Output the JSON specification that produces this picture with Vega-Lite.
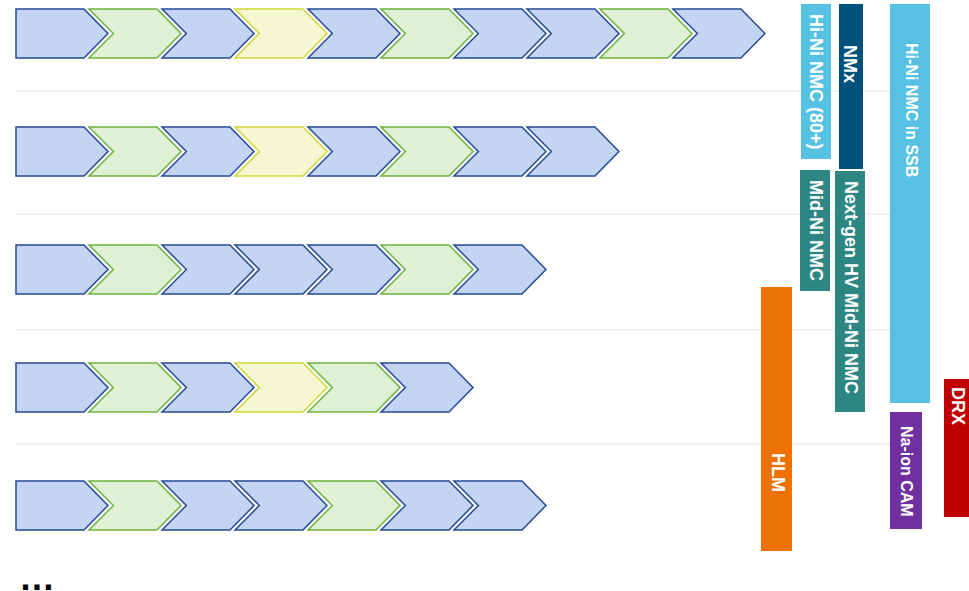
{
  "$schema": "https://vega.github.io/schema/vega-lite/v6.json",
  "width": 969,
  "height": 591,
  "autosize": {"type": "none"},
  "padding": 0,
  "background": "white",
  "config": {"view": {"stroke": null}},
  "datasets": {
    "steps": [
      {"stage": 0, "step": 0, "tone": "blue", "kind": "first"},
      {"stage": 0, "step": 1, "tone": "green", "kind": "next"},
      {"stage": 0, "step": 2, "tone": "blue", "kind": "next"},
      {"stage": 0, "step": 3, "tone": "yellow", "kind": "next"},
      {"stage": 0, "step": 4, "tone": "blue", "kind": "next"},
      {"stage": 0, "step": 5, "tone": "green", "kind": "next"},
      {"stage": 0, "step": 6, "tone": "blue", "kind": "next"},
      {"stage": 0, "step": 7, "tone": "blue", "kind": "next"},
      {"stage": 0, "step": 8, "tone": "green", "kind": "next"},
      {"stage": 0, "step": 9, "tone": "blue", "kind": "next"},
      {"stage": 1, "step": 0, "tone": "blue", "kind": "first"},
      {"stage": 1, "step": 1, "tone": "green", "kind": "next"},
      {"stage": 1, "step": 2, "tone": "blue", "kind": "next"},
      {"stage": 1, "step": 3, "tone": "yellow", "kind": "next"},
      {"stage": 1, "step": 4, "tone": "blue", "kind": "next"},
      {"stage": 1, "step": 5, "tone": "green", "kind": "next"},
      {"stage": 1, "step": 6, "tone": "blue", "kind": "next"},
      {"stage": 1, "step": 7, "tone": "blue", "kind": "next"},
      {"stage": 2, "step": 0, "tone": "blue", "kind": "first"},
      {"stage": 2, "step": 1, "tone": "green", "kind": "next"},
      {"stage": 2, "step": 2, "tone": "blue", "kind": "next"},
      {"stage": 2, "step": 3, "tone": "blue", "kind": "next"},
      {"stage": 2, "step": 4, "tone": "blue", "kind": "next"},
      {"stage": 2, "step": 5, "tone": "green", "kind": "next"},
      {"stage": 2, "step": 6, "tone": "blue", "kind": "next"},
      {"stage": 3, "step": 0, "tone": "blue", "kind": "first"},
      {"stage": 3, "step": 1, "tone": "green", "kind": "next"},
      {"stage": 3, "step": 2, "tone": "blue", "kind": "next"},
      {"stage": 3, "step": 3, "tone": "yellow", "kind": "next"},
      {"stage": 3, "step": 4, "tone": "green", "kind": "next"},
      {"stage": 3, "step": 5, "tone": "blue", "kind": "next"},
      {"stage": 4, "step": 0, "tone": "blue", "kind": "first"},
      {"stage": 4, "step": 1, "tone": "green", "kind": "next"},
      {"stage": 4, "step": 2, "tone": "blue", "kind": "next"},
      {"stage": 4, "step": 3, "tone": "blue", "kind": "next"},
      {"stage": 4, "step": 4, "tone": "green", "kind": "next"},
      {"stage": 4, "step": 5, "tone": "blue", "kind": "next"},
      {"stage": 4, "step": 6, "tone": "blue", "kind": "next"}
    ],
    "dividers": [
      {"from": -0.63, "to": 11.81, "at": 0.487},
      {"from": -0.63, "to": 11.81, "at": 1.53},
      {"from": -0.63, "to": 11.81, "at": 2.513},
      {"from": -0.63, "to": 11.81, "at": 3.479}
    ],
    "materials": [
      {"label": "Hi-Ni NMC (80+)", "x0": 10.123, "x1": 10.534, "y0": -0.25, "y1": 1.064, "lx": 10.315, "ly": -0.165, "tier": "main"},
      {"label": "NMx", "x0": 10.644, "x1": 10.973, "y0": -0.25, "y1": 1.148, "lx": 10.781, "ly": 0.097, "tier": "main"},
      {"label": "Hi-Ni NMC in SSB", "x0": 11.342, "x1": 11.89, "y0": -0.25, "y1": 3.131, "lx": 11.63, "ly": 0.081, "tier": "minor"},
      {"label": "Mid-Ni NMC", "x0": 10.11, "x1": 10.521, "y0": 1.157, "y1": 2.182, "lx": 10.315, "ly": 1.242, "tier": "main"},
      {"label": "Next-gen HV Mid-Ni NMC", "x0": 10.589, "x1": 11.0, "y0": 1.165, "y1": 3.208, "lx": 10.795, "ly": 1.25, "tier": "main"},
      {"label": "HLM", "x0": 9.575, "x1": 10.0, "y0": 2.148, "y1": 4.386, "lx": 9.795, "ly": 3.555, "tier": "main"},
      {"label": "Na-ion CAM", "x0": 11.342, "x1": 11.781, "y0": 3.208, "y1": 4.199, "lx": 11.562, "ly": 3.326, "tier": "minor"},
      {"label": "DRX", "x0": 12.082, "x1": 12.425, "y0": 2.928, "y1": 4.097, "lx": 12.26, "ly": 2.996, "tier": "main"}
    ],
    "more": [{"text": "…", "step": -0.59, "stage": 4.716}]
  },
  "layer": [
    {
      "data": {"name": "dividers"},
      "mark": {"type": "rule", "color": "#F2F2F2", "strokeWidth": 2},
      "encoding": {
        "x": {"field": "from", "type": "quantitative", "scale": {"domain": [-0.8493, 12.425], "nice": false, "zero": false}, "axis": null},
        "x2": {"field": "to"},
        "y": {"field": "at", "type": "quantitative", "scale": {"domain": [-0.2839, 4.7246], "reverse": true, "nice": false, "zero": false}, "axis": null}
      }
    },
    {
      "data": {"name": "steps"},
      "mark": {"type": "point", "filled": true, "opacity": 1, "size": 8464, "strokeWidth": 1.5},
      "encoding": {
        "x": {"field": "step", "type": "quantitative", "scale": {"domain": [-0.8493, 12.425], "nice": false, "zero": false}, "axis": null},
        "y": {"field": "stage", "type": "quantitative", "scale": {"domain": [-0.2839, 4.7246], "reverse": true, "nice": false, "zero": false}, "axis": null},
        "shape": {"field": "kind", "type": "nominal", "scale": {"domain": ["first", "next"], "range": ["M-1,-0.533L0.478,-0.533L1,0L0.478,0.533L-1,0.533Z", "M-1,-0.533L0.478,-0.533L1,0L0.478,0.533L-1,0.533L-0.47,0Z"]}, "legend": null},
        "fill": {"field": "tone", "type": "nominal", "scale": {"domain": ["blue", "green", "yellow"], "range": ["#C3D5F3", "#DFF1D4", "#F4F7D1"]}, "legend": null},
        "stroke": {"field": "tone", "type": "nominal", "scale": {"domain": ["blue", "green", "yellow"], "range": ["#264A95", "#6DB33F", "#D2D83A"]}, "legend": null}
      }
    },
    {
      "data": {"name": "materials"},
      "mark": {"type": "rect"},
      "encoding": {
        "x": {"field": "x0", "type": "quantitative", "scale": {"domain": [-0.8493, 12.425], "nice": false, "zero": false}, "axis": null},
        "x2": {"field": "x1"},
        "y": {"field": "y0", "type": "quantitative", "scale": {"domain": [-0.2839, 4.7246], "reverse": true, "nice": false, "zero": false}, "axis": null},
        "y2": {"field": "y1"},
        "color": {"field": "label", "type": "nominal", "scale": {"domain": ["Hi-Ni NMC (80+)", "NMx", "Hi-Ni NMC in SSB", "Mid-Ni NMC", "Next-gen HV Mid-Ni NMC", "HLM", "Na-ion CAM", "DRX"], "range": ["#56C1E2", "#00507C", "#56C1E2", "#2D8682", "#2D8682", "#EE7203", "#7030A0", "#C00000"]}, "legend": null}
      }
    },
    {
      "data": {"name": "materials"},
      "transform": [{"filter": "datum.tier === 'main'"}],
      "mark": {"type": "text", "angle": 90, "align": "left", "baseline": "middle", "font": "Liberation Sans", "fontWeight": "bold", "fontSize": 18, "color": "white"},
      "encoding": {
        "x": {"field": "lx", "type": "quantitative", "scale": {"domain": [-0.8493, 12.425], "nice": false, "zero": false}, "axis": null},
        "y": {"field": "ly", "type": "quantitative", "scale": {"domain": [-0.2839, 4.7246], "reverse": true, "nice": false, "zero": false}, "axis": null},
        "text": {"field": "label", "type": "nominal"}
      }
    },
    {
      "data": {"name": "materials"},
      "transform": [{"filter": "datum.tier === 'minor'"}],
      "mark": {"type": "text", "angle": 90, "align": "left", "baseline": "middle", "font": "Liberation Sans", "fontWeight": "bold", "fontSize": 16, "color": "white"},
      "encoding": {
        "x": {"field": "lx", "type": "quantitative", "scale": {"domain": [-0.8493, 12.425], "nice": false, "zero": false}, "axis": null},
        "y": {"field": "ly", "type": "quantitative", "scale": {"domain": [-0.2839, 4.7246], "reverse": true, "nice": false, "zero": false}, "axis": null},
        "text": {"field": "label", "type": "nominal"}
      }
    },
    {
      "data": {"name": "more"},
      "mark": {"type": "text", "align": "left", "baseline": "alphabetic", "font": "Liberation Sans", "fontWeight": "bold", "fontSize": 36, "color": "black"},
      "encoding": {
        "x": {"field": "step", "type": "quantitative", "scale": {"domain": [-0.8493, 12.425], "nice": false, "zero": false}, "axis": null},
        "y": {"field": "stage", "type": "quantitative", "scale": {"domain": [-0.2839, 4.7246], "reverse": true, "nice": false, "zero": false}, "axis": null},
        "text": {"field": "text", "type": "nominal"}
      }
    }
  ]
}
